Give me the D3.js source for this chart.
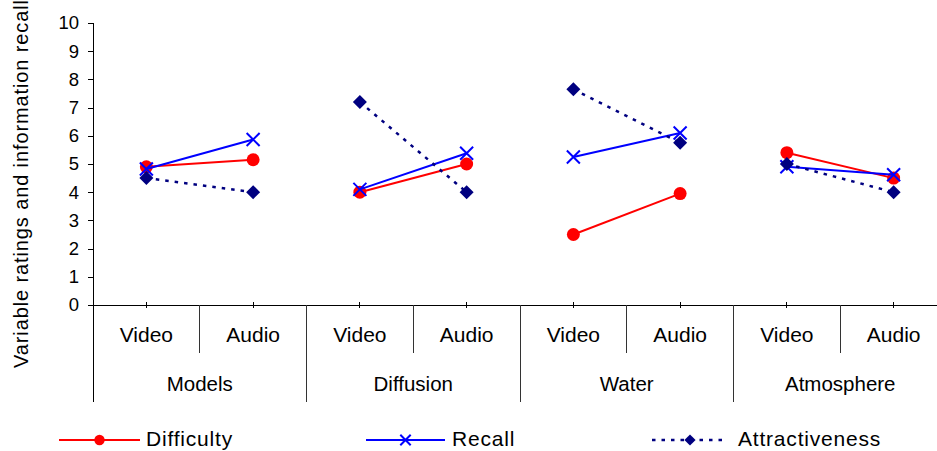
<!DOCTYPE html>
<html>
<head>
<meta charset="utf-8">
<script src="https://cdn.jsdelivr.net/npm/d3@7/dist/d3.min.js"></script>
<style>
  html, body { margin: 0; padding: 0; background: #fff; }
  svg { display: block; font-family: "Liberation Sans", Arial, sans-serif; }
</style>
</head>
<body>
<svg id="chart" width="937" height="451"></svg>
<script>
// ---- data ----
const groups = ["Models", "Diffusion", "Water", "Atmosphere"];
const media = ["Video", "Audio"];
const difficulty = [4.9, 5.15, 4.0, 5.0, 2.5, 3.95, 5.4, 4.5];
const recall = [4.82, 5.87, 4.1, 5.38, 5.25, 6.1, 4.9, 4.62];
const attractiveness = [4.5, 4.0, 7.2, 4.0, 7.65, 5.75, 5.0, 4.0];
const yTicks = [0, 1, 2, 3, 4, 5, 6, 7, 8, 9, 10];
const yTitle = "Variable ratings and information recall";

(function () {
// ---- layout ----
const svg = d3.select("#chart");
const pLeft = 93, pRight = 947, pTop = 23, pBottom = 305;
const cats = [];
groups.forEach(g => media.forEach(m => cats.push(g + "|" + m)));

const x = d3.scaleBand().domain(cats).range([pLeft, pRight]).paddingInner(0).paddingOuter(0);
const y = d3.scaleLinear().domain([0, 10]).range([pBottom, pTop]);
const cx = i => x(cats[i]) + x.bandwidth() / 2;

// ---- y axis ----
const yAxis = d3.axisLeft(y).tickValues(yTicks).tickSize(5).tickPadding(9).tickFormat(d3.format("d"));
const gy = svg.append("g").attr("transform", `translate(${pLeft},0)`).call(yAxis);
gy.select(".domain").remove();
gy.selectAll(".tick line").attr("stroke", "#000").attr("shape-rendering", "crispEdges");
gy.selectAll(".tick text").attr("font-size", 18.5).attr("fill", "#000")
  .attr("font-family", "Liberation Sans, Arial, sans-serif");
svg.append("line").attr("x1", pLeft).attr("x2", pLeft).attr("y1", pTop).attr("y2", 402)
  .attr("stroke", "#000").attr("shape-rendering", "crispEdges");

// ---- x axis ----
svg.append("line").attr("x1", pLeft).attr("x2", pRight).attr("y1", pBottom).attr("y2", pBottom)
  .attr("stroke", "#000").attr("shape-rendering", "crispEdges");
// center ticks
svg.append("g").selectAll("line").data(cats).join("line")
  .attr("x1", (d, i) => cx(i)).attr("x2", (d, i) => cx(i))
  .attr("y1", pBottom - 3).attr("y2", pBottom + 3)
  .attr("stroke", "#000").attr("shape-rendering", "crispEdges");
// separators
svg.append("g").selectAll("line").data(cats).join("line")
  .attr("x1", d => x(d) + x.bandwidth()).attr("x2", d => x(d) + x.bandwidth())
  .attr("y1", pBottom)
  .attr("y2", (d, i) => (i % 2 === 0 ? 353 : 402))
  .attr("stroke", "#333").attr("shape-rendering", "crispEdges");
// media labels
svg.append("g").selectAll("text").data(cats).join("text")
  .attr("x", (d, i) => cx(i)).attr("y", 342)
  .attr("text-anchor", "middle").attr("font-size", 21).attr("fill", "#000")
  .text(d => d.split("|")[1]);
// group labels
svg.append("g").selectAll("text").data(groups).join("text")
  .attr("x", g => x(g + "|Video") + x.bandwidth())
  .attr("y", 391)
  .attr("text-anchor", "middle").attr("font-size", 20.5).attr("fill", "#000")
  .text(g => g);

// y title
svg.append("text")
  .attr("transform", "translate(28,184) rotate(-90)")
  .attr("text-anchor", "middle").attr("font-size", 20).attr("fill", "#000")
  .attr("textLength", 368).attr("lengthAdjust", "spacing")
  .text(yTitle);

// ---- series ----
const series = [
  { name: "Difficulty", values: difficulty, color: "#FF0000", dash: null, width: 2, marker: "circle" },
  { name: "Recall", values: recall, color: "#0000FF", dash: null, width: 2, marker: "x" },
  { name: "Attractiveness", values: attractiveness, color: "#000080", dash: "3.5,6", width: 2.5, marker: "diamond" }
];

function drawMarker(g, type, px, py, color, s) {
  s = s || 1;
  if (type === "circle") {
    g.append("circle").attr("cx", px).attr("cy", py).attr("r", 6.5 * s).attr("fill", color);
  } else if (type === "x") {
    const h = 6.5 * s;
    g.append("path").attr("d", `M${px - h},${py - h}L${px + h},${py + h}M${px - h},${py + h}L${px + h},${py - h}`)
      .attr("stroke", color).attr("stroke-width", 2).attr("fill", "none");
  } else {
    const h = 7 * s;
    g.append("path").attr("d", `M${px},${py - h}L${px + h},${py}L${px},${py + h}L${px - h},${py}Z`)
      .attr("fill", color);
  }
}

const line = d3.line().x(d => cx(d.i)).y(d => y(d.v));
series.forEach(s => {
  const g = svg.append("g");
  groups.forEach((gr, gi) => {
    const pts = [0, 1].map(k => ({ i: gi * 2 + k, v: s.values[gi * 2 + k] }));
    g.append("path").attr("d", line(pts)).attr("fill", "none")
      .attr("stroke", s.color).attr("stroke-width", s.width)
      .attr("stroke-dasharray", s.dash);
  });
  s.values.forEach((v, i) => drawMarker(g, s.marker, cx(i), y(v), s.color));
});

// ---- legend ----
const legendItems = [
  { x1: 59, x2: 140, tx: 146 },
  { x1: 366, x2: 445, tx: 452 },
  { x1: 652, x2: 728, tx: 738 }
];
const ly = 440;
series.forEach((s, k) => {
  const L = legendItems[k];
  const g = svg.append("g");
  g.append("line").attr("x1", L.x1).attr("x2", L.x2).attr("y1", ly).attr("y2", ly)
    .attr("stroke", s.color).attr("stroke-width", s.width).attr("stroke-dasharray", s.dash);
  drawMarker(g, s.marker, (L.x1 + L.x2) / 2, ly, s.color, 0.8);
  g.append("text").attr("x", L.tx).attr("y", 445.5).attr("font-size", 21)
    .attr("letter-spacing", 0.8).attr("fill", "#000").text(s.name);
});
})();
</script>
</body>
</html>
